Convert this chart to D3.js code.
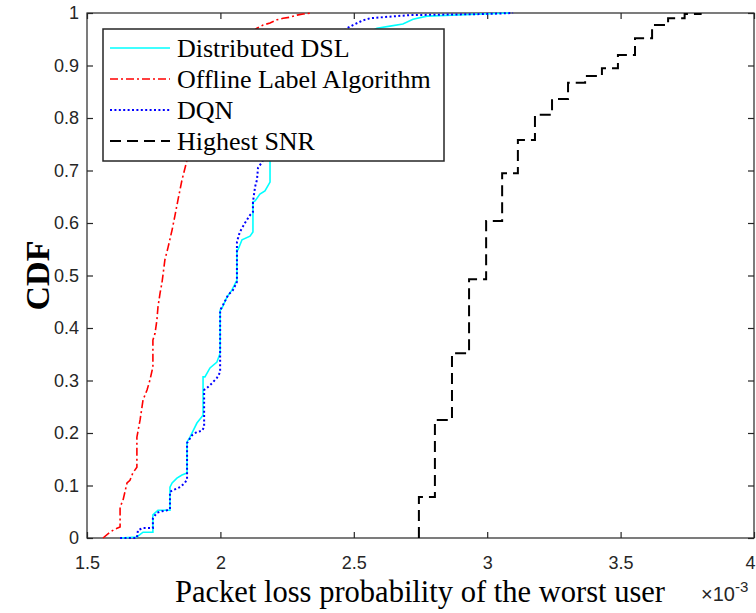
<!DOCTYPE html>
<html>
<head>
<meta charset="utf-8">
<script src="https://cdn.jsdelivr.net/npm/d3@7"></script>
<style>
  html, body { margin: 0; padding: 0; background: #fff; }
  svg { display: block; }
</style>
</head>
<body>
<div id="chart"></div>
<script>
// ---- Data (x in units of 1e-3) ----
const xTicks = [1.5, 2, 2.5, 3, 3.5, 4];
const xTickLabels = ["1.5", "2", "2.5", "3", "3.5", "4"];
const yTicks = [0, 0.1, 0.2, 0.3, 0.4, 0.5, 0.6, 0.7, 0.8, 0.9, 1];
const yTickLabels = ["0", "0.1", "0.2", "0.3", "0.4", "0.5", "0.6", "0.7", "0.8", "0.9", "1"];

const seriesNames = ["Distributed DSL", "Offline Label Algorithm", "DQN", "Highest SNR"];

// Distributed DSL
const dslX = [1.624, 1.687, 1.710, 1.747, 1.747, 1.766, 1.811, 1.811, 1.819, 1.837, 1.856, 1.875, 1.875, 1.886, 1.912, 1.935, 1.935, 1.942, 1.961, 1.987, 1.999, 1.999, 2.006, 2.025, 2.043, 2.062, 2.062, 2.066, 2.081, 2.111, 2.122, 2.122, 2.130, 2.148, 2.167, 2.186, 2.186, 2.223, 2.298, 2.411, 2.505, 2.587, 2.636, 2.684, 2.722, 2.774, 2.984, 3.085];
const dslY = [0.000, 0.002, 0.011, 0.011, 0.044, 0.053, 0.053, 0.097, 0.105, 0.114, 0.120, 0.124, 0.183, 0.192, 0.219, 0.234, 0.307, 0.307, 0.324, 0.335, 0.352, 0.434, 0.438, 0.459, 0.472, 0.491, 0.549, 0.549, 0.568, 0.575, 0.583, 0.640, 0.642, 0.655, 0.661, 0.678, 0.720, 0.777, 0.853, 0.910, 0.949, 0.971, 0.975, 0.979, 0.988, 0.994, 0.998, 1.000];

// Offline Label Algorithm
const offX = [1.560, 1.586, 1.605, 1.624, 1.624, 1.635, 1.650, 1.661, 1.672, 1.687, 1.687, 1.699, 1.710, 1.725, 1.736, 1.747, 1.747, 1.755, 1.762, 1.766, 1.774, 1.781, 1.792, 1.804, 1.819, 1.830, 1.841, 1.856, 1.875, 1.924, 1.980, 2.055, 2.137, 2.160, 2.186, 2.212, 2.235, 2.261, 2.287, 2.310, 2.343];
const offY = [0.000, 0.011, 0.017, 0.021, 0.059, 0.072, 0.105, 0.110, 0.124, 0.135, 0.192, 0.225, 0.263, 0.282, 0.301, 0.326, 0.377, 0.390, 0.415, 0.440, 0.467, 0.486, 0.530, 0.554, 0.587, 0.615, 0.644, 0.682, 0.720, 0.796, 0.872, 0.939, 0.971, 0.977, 0.981, 0.987, 0.990, 0.992, 0.996, 0.998, 1.000];

// DQN
const dqnX = [1.624, 1.687, 1.691, 1.710, 1.744, 1.747, 1.747, 1.762, 1.781, 1.800, 1.811, 1.811, 1.822, 1.849, 1.867, 1.875, 1.875, 1.894, 1.912, 1.931, 1.939, 1.939, 1.950, 1.969, 1.987, 1.999, 1.999, 2.010, 2.029, 2.047, 2.062, 2.062, 2.073, 2.092, 2.111, 2.122, 2.122, 2.130, 2.137, 2.141, 2.156, 2.160, 2.205, 2.280, 2.373, 2.475, 2.497, 2.534, 2.561, 2.609, 2.711, 2.984, 3.097];
const dqnY = [0.000, 0.000, 0.015, 0.019, 0.019, 0.019, 0.038, 0.048, 0.051, 0.053, 0.055, 0.088, 0.091, 0.097, 0.105, 0.112, 0.181, 0.196, 0.202, 0.204, 0.211, 0.282, 0.286, 0.295, 0.305, 0.316, 0.434, 0.444, 0.463, 0.472, 0.488, 0.564, 0.583, 0.600, 0.615, 0.621, 0.640, 0.669, 0.682, 0.705, 0.716, 0.720, 0.796, 0.872, 0.930, 0.971, 0.977, 0.986, 0.990, 0.992, 0.996, 0.998, 1.000];

// Highest SNR (jump positions and CDF level after each jump)
const snrX = [2.744, 2.804, 2.868, 2.932, 2.996, 3.056, 3.115, 3.179, 3.243, 3.303, 3.367, 3.430, 3.490, 3.554, 3.618, 3.678, 3.740, 3.800];
const snrY = [0.078, 0.225, 0.352, 0.493, 0.604, 0.695, 0.758, 0.806, 0.836, 0.867, 0.880, 0.895, 0.920, 0.952, 0.977, 0.990, 0.998, 1.000];

// ---- Layout ----
const W = 756, H = 613;
const L = 87, R = 754, T = 13, B = 538;
const axisColor = "#262626";

const svg = d3.select("#chart").append("svg")
  .attr("width", W).attr("height", H)
  .attr("viewBox", `0 0 ${W} ${H}`);

const x = d3.scaleLinear().domain([1.5, 4]).range([L, R]);
const y = d3.scaleLinear().domain([0, 1]).range([B, T]);

// ---- Axes ----
const tickFont = "'Liberation Sans', Arial, sans-serif";
const serif = "'Liberation Serif', 'Times New Roman', serif";

svg.append("rect").attr("x", L).attr("y", T).attr("width", R - L).attr("height", B - T)
  .attr("fill", "none").attr("stroke", axisColor).attr("stroke-width", 1.2);

const xAxis = d3.axisBottom(x).tickValues(xTicks)
  .tickFormat((d, i) => xTickLabels[i]).tickSize(-6).tickPadding(18);
const gx = svg.append("g").attr("transform", `translate(0,${B})`).call(xAxis);
gx.select(".domain").remove();
gx.selectAll(".tick text").filter(d => d === 4).attr("dx", -4);

const yAxis = d3.axisLeft(y).tickValues(yTicks)
  .tickFormat((d, i) => yTickLabels[i]).tickSize(-6).tickPadding(8);
const gy = svg.append("g").attr("transform", `translate(${L},0)`).call(yAxis);
gy.select(".domain").remove();

const gxt = svg.append("g").attr("transform", `translate(0,${T})`)
  .call(d3.axisTop(x).tickValues(xTicks).tickFormat("").tickSize(-6));
gxt.select(".domain").remove();
const gyr = svg.append("g").attr("transform", `translate(${R},0)`)
  .call(d3.axisRight(y).tickValues(yTicks).tickFormat("").tickSize(-6));
gyr.select(".domain").remove();

svg.selectAll(".tick line").attr("stroke", axisColor).attr("stroke-width", 1.2);
svg.selectAll(".tick text").attr("fill", axisColor)
  .style("font-family", tickFont).style("font-size", "18px");

// ---- Curves ----
svg.append("clipPath").attr("id", "clip")
  .append("rect").attr("x", L - 2).attr("y", T - 2).attr("width", R - L + 4).attr("height", B - T + 4);

const plot = svg.append("g").attr("clip-path", "url(#clip)");

const line = d3.line().x(d => x(d[0])).y(d => y(d[1]));
const stepLine = d3.line().x(d => x(d[0])).y(d => y(d[1])).curve(d3.curveStepAfter);

const styles = [
  { color: "#00FFFF", width: 1.6, dash: null },
  { color: "#FF0000", width: 1.6, dash: "8,3,2,3" },
  { color: "#0000FF", width: 2, dash: "2,2.4" },
  { color: "#000000", width: 2, dash: "11,6" }
];

const dslPts = dslX.map((v, i) => [v, dslY[i]]);
const offPts = offX.map((v, i) => [v, offY[i]]);
const dqnPts = dqnX.map((v, i) => [v, dqnY[i]]);
const snrPts = [[snrX[0], 0]].concat(snrX.map((v, i) => [v, snrY[i]]));

plot.append("path").attr("d", line(offPts)).attr("fill", "none")
  .attr("stroke", styles[1].color).attr("stroke-width", styles[1].width).attr("stroke-dasharray", styles[1].dash);
plot.append("path").attr("d", line(dslPts)).attr("fill", "none")
  .attr("stroke", styles[0].color).attr("stroke-width", styles[0].width);
plot.append("path").attr("d", line(dqnPts)).attr("fill", "none")
  .attr("stroke", styles[2].color).attr("stroke-width", styles[2].width).attr("stroke-dasharray", styles[2].dash);
plot.append("path").attr("d", stepLine(snrPts)).attr("fill", "none")
  .attr("stroke", styles[3].color).attr("stroke-width", styles[3].width).attr("stroke-dasharray", styles[3].dash);

// axis labels
svg.append("text").attr("x", 420).attr("y", 602).attr("text-anchor", "middle")
  .attr("textLength", 490).attr("lengthAdjust", "spacingAndGlyphs")
  .style("font-family", serif).style("font-size", "32px").attr("fill", "#000")
  .text("Packet loss probability of the worst user");

const expo = svg.append("text").attr("x", 701).attr("y", 601)
  .style("font-family", tickFont).style("font-size", "20px").attr("fill", axisColor);
expo.append("tspan").text("×10");
expo.append("tspan").attr("dy", -9).style("font-size", "15px").text("-3");

svg.append("text").attr("transform", `translate(49,${(T + B) / 2}) rotate(-90)`)
  .attr("text-anchor", "middle")
  .style("font-family", serif).style("font-size", "34px").style("font-weight", "bold")
  .attr("fill", "#000").text("CDF");

// ---- Legend ----
const lg = svg.append("g");
lg.append("rect").attr("x", 103).attr("y", 29).attr("width", 341).attr("height", 132)
  .attr("fill", "#fff").attr("stroke", axisColor).attr("stroke-width", 1.5);
const rowY = [48, 79, 110, 141];
seriesNames.forEach((name, i) => {
  const s = styles[i];
  lg.append("line").attr("x1", 110).attr("x2", 170).attr("y1", rowY[i]).attr("y2", rowY[i])
    .attr("stroke", s.color).attr("stroke-width", s.width)
    .attr("stroke-dasharray", s.dash);
  lg.append("text").attr("x", 177).attr("y", rowY[i] + 9)
    .style("font-family", serif).style("font-size", "26px").attr("fill", "#000")
    .text(name);
});
</script>
</body>
</html>
